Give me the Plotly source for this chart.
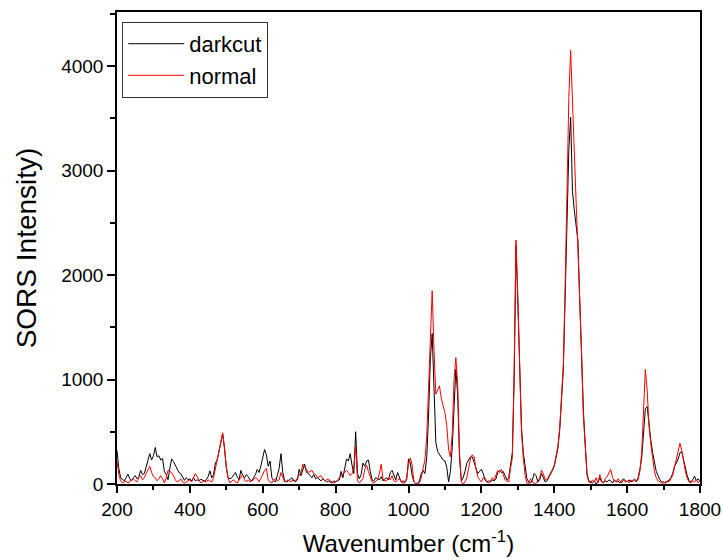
import plotly.graph_objects as go

# Wavenumber grid (cm-1), 200..1800 step 5
wavenumber = list(range(200, 1801, 5))

darkcut = [
    # 200-295
    320, 150, 60, 40, 30, 60, 95, 50, 30, 60, 80, 50, 70, 130, 90, 100, 170, 240, 290, 230,
    # 300-395
    270, 350, 260, 270, 230, 245, 120, 90, 40, 150, 240, 215, 180, 150, 110, 100, 60, 35, 60, 40,
    # 400-495
    50, 30, 60, 30, 40, 30, 45, 40, 30, 40, 70, 125, 60, 90, 200, 230, 320, 420, 480, 340,
    # 500-595
    160, 60, 50, 60, 90, 110, 70, 40, 130, 80, 60, 90, 70, 40, 30, 55, 90, 140, 110, 175,
    # 600-695
    250, 330, 280, 170, 220, 60, 30, 20, 80, 150, 290, 110, 30, 20, 30, 50, 60, 30, 20, 40,
    # 700-795
    140, 80, 130, 190, 110, 100, 80, 60, 90, 50, 60, 40, 30, 50, 30, 20, 30, 20, 10, 30,
    # 800-895
    20, 30, 40, 120, 60, 150, 240, 220, 290, 180, 100, 500, 100, 50, 90, 200, 170, 220, 230, 120,
    # 900-995
    40, 30, 60, 50, 40, 70, 30, 50, 60, 40, 110, 130, 80, 40, 110, 60, 20, 30, 20, 40,
    # 1000-1095
    240, 200, 80, 20, 0, 10, 30, 100, 130, 100, 250, 650, 1200, 1440, 900, 400, 310, 280, 260, 230,
    # 1100-1195
    220, 160, 20, 120, 350, 800, 1100, 850, 250, 30, 60, 120, 200, 230, 260, 260, 200, 150, 100, 120,
    # 1200-1295
    140, 100, 40, 20, 30, 20, 40, 30, 50, 110, 130, 110, 120, 80, 40, 60, 180, 300, 1000, 2280,
    # 1300-1395
    1750, 1000, 550, 300, 150, 50, 20, 10, 40, 100, 80, 20, 40, 100, 60, 20, 30, 60, 90, 130,
    # 1400-1495
    170, 245, 340, 520, 780, 1100, 1800, 2600, 3200, 3510, 2800, 2620, 2470, 2330, 1750, 1150, 700, 380, 100, 30,
    # 1500-1595
    20, 10, 30, 0, 20, 60, 20, 10, 30, 20, 40, 30, 10, 40, 20, 30, 10, 30, 50, 30,
    # 1600-1695
    20, 40, 20, 30, 40, 20, 60, 140, 250, 480, 720, 740, 560, 420, 300, 190, 120, 80, 40, 20,
    # 1700-1800
    20, 10, 20, 40, 60, 100, 170, 200, 240, 300, 310, 230, 150, 80, 30, 20, 40, 75, 30, 50, 20,
]

normal = [
    # 200-295
    220, 90, 30, 10, 20, 30, 10, 20, 40, 50, 30, 20, 60, 80, 40, 60, 100, 130, 170, 110,
    # 300-395
    70, 60, 30, 50, 80, 50, 10, 60, 130, 120, 110, 80, 40, 20, 30, 50, 20, 10, 20, 30,
    # 400-495
    40, 20, 60, 100, 70, 40, 10, 20, 30, 20, 40, 30, 20, 60, 150, 250, 330, 430, 490, 350,
    # 500-595
    160, 50, 10, 30, 40, 20, 10, 40, 60, 90, 40, 20, 40, 20, 30, 40, 60, 50, 20, 60,
    # 600-695
    100, 130, 150, 40, 20, 10, 40, 50, 30, 40, 110, 60, 20, 30, 40, 20, 30, 40, 30, 60,
    # 700-795
    80, 110, 190, 170, 140, 110, 120, 130, 100, 90, 60, 70, 80, 50, 30, 40, 50, 30, 20, 10,
    # 800-895
    20, 40, 60, 70, 90, 120, 130, 110, 80, 100, 160, 360, 30, 10, 30, 50, 140, 180, 120, 60,
    # 900-995
    20, 10, 30, 40, 100, 190, 50, 30, 30, 60, 40, 80, 30, 20, 40, 50, 20, 10, 10, 60,
    # 1000-1095
    190, 250, 180, 20, 0, 0, 10, 60, 150, 230, 450, 900, 1500, 1850, 1280, 860, 900, 940, 820, 760,
    # 1100-1195
    680, 560, 330, 260, 480, 1000, 1210, 950, 300, 20, 0, 20, 60, 150, 240, 280, 260, 150, 70, 40,
    # 1200-1295
    20, 60, 60, 20, 10, 30, 60, 40, 80, 130, 110, 140, 90, 40, 30, 20, 150, 250, 1100, 2335,
    # 1300-1395
    1800, 1000, 500, 250, 80, 10, 0, 50, 20, 0, 10, 20, 60, 130, 100, 40, 40, 70, 100, 140,
    # 1400-1495
    180, 260, 360, 540, 800, 1150, 1900, 2800, 3700, 4150, 3600, 3150, 2700, 2250, 1800, 1250, 650, 300, 80, 20,
    # 1500-1595
    10, 40, 20, 60, 10, 90, 30, 10, 50, 70, 100, 140, 60, 30, 20, 50, 30, 10, 40, 20,
    # 1600-1695
    30, 10, 40, 20, 50, 30, 40, 120, 300, 650, 1097, 900, 560, 380, 240, 120, 60, 30, 20, 10,
    # 1700-1800
    10, 20, 30, 20, 50, 80, 160, 230, 300, 390, 320, 200, 120, 50, 20, 10, 30, 20, 40, 10, 30,
]

x_ticks = [200, 400, 600, 800, 1000, 1200, 1400, 1600, 1800]
y_ticks = [0, 1000, 2000, 3000, 4000]

FONT = "Liberation Sans, Arial, sans-serif"

fig = go.Figure()
fig.add_trace(go.Scatter(x=wavenumber, y=darkcut, mode="lines", name="darkcut",
                         line=dict(color="#000000", width=1)))
fig.add_trace(go.Scatter(x=wavenumber, y=normal, mode="lines", name="normal",
                         line=dict(color="#ff0000", width=1)))

axis_common = dict(
    showline=True, linecolor="black", linewidth=1.5, mirror=True,
    ticks="outside", tickcolor="black", tickwidth=1.5,
    showgrid=False, zeroline=False, automargin=False,
    tickfont=dict(family=FONT, size=19, color="black"),
)

fig.update_xaxes(
    range=[200, 1800], tickvals=x_ticks, ticklen=7,
    minor=dict(dtick=100, ticklen=4, tickcolor="black", tickwidth=1.5, ticks="outside"),
    title=dict(text="Wavenumber (cm<sup>-1</sup>)", font=dict(family=FONT, size=24, color="black"), standoff=17),
    **axis_common,
)
fig.update_yaxes(
    range=[0, 4517], tickvals=y_ticks, ticklen=8,
    minor=dict(dtick=500, ticklen=5, tickcolor="black", tickwidth=1.5, ticks="outside"),
    title=dict(text="SORS Intensity)", font=dict(family=FONT, size=28, color="black"), standoff=16),
    **axis_common,
)

fig.update_layout(
    width=723, height=560, autosize=False,
    margin=dict(l=117, r=23, t=12, b=76),
    paper_bgcolor="white", plot_bgcolor="white",
    showlegend=True,
    legend=dict(x=0.009, y=0.979, xanchor="left", yanchor="top",
                bordercolor="#333333", borderwidth=1, bgcolor="white",
                font=dict(family=FONT, size=22, color="black"),
                itemwidth=56, tracegroupgap=0),
)

fig.write_html("out.html", config={"responsive": False})
